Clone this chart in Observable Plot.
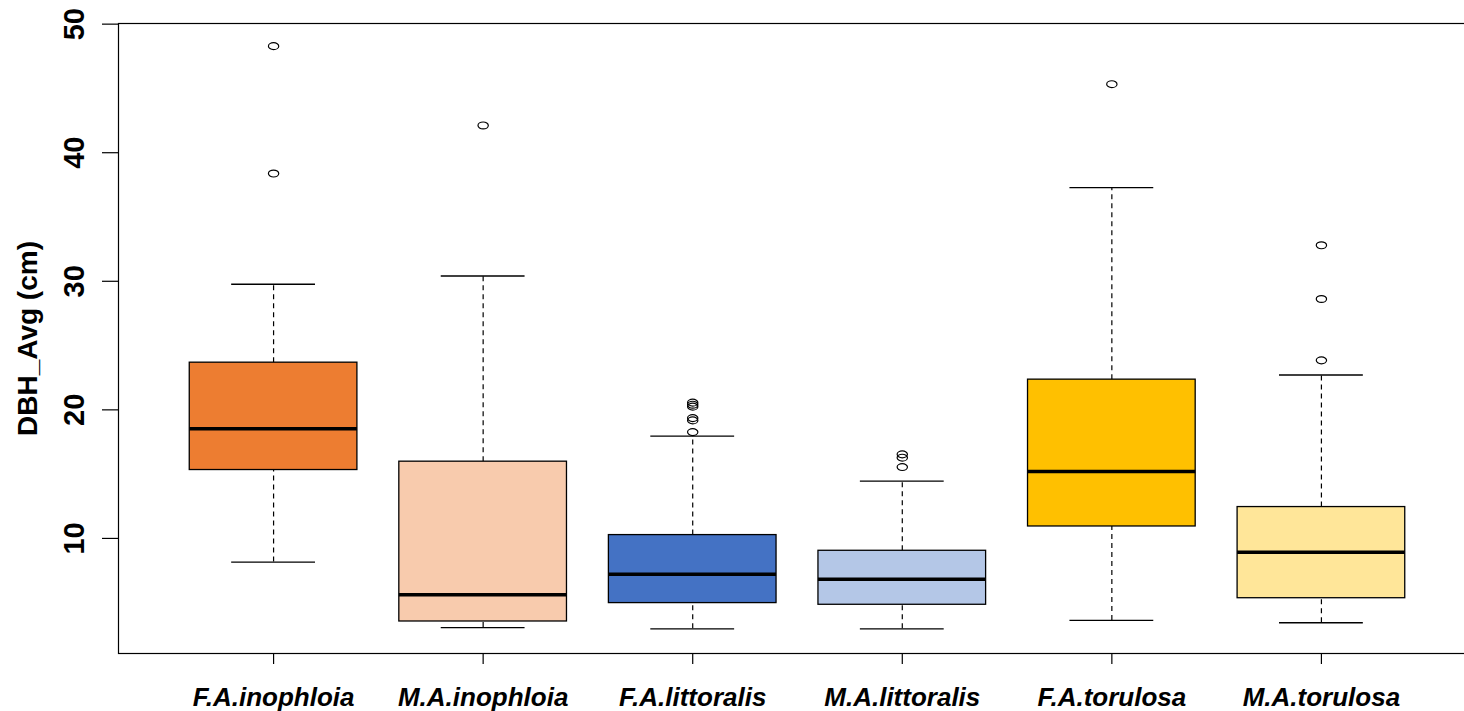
<!DOCTYPE html>
<html>
<head>
<meta charset="utf-8">
<script src="https://cdn.jsdelivr.net/npm/d3@7"></script>
<script src="https://cdn.jsdelivr.net/npm/@observablehq/plot@0.6"></script>
<style>
  html, body { margin: 0; padding: 0; background: #fff; overflow: hidden; }
  #chart svg { display: block; max-width: none !important; font-family: "Liberation Sans", Arial, Helvetica, sans-serif; }
</style>
</head>
<body>
<div id="chart"></div>
<script>
// DBH (cm) by group: five-number summaries and outliers
const groups = ["F.A.inophloia", "M.A.inophloia", "F.A.littoralis", "M.A.littoralis", "F.A.torulosa", "M.A.torulosa"];
const lowerWhisker = [8.16, 3.07, 2.97, 2.97, 3.62, 3.44];
const lowerQuartile = [15.32, 3.54, 4.97, 4.84, 10.93, 5.35];
const medians = [18.54, 5.62, 7.22, 6.83, 15.21, 8.93];
const upperQuartile = [23.67, 15.97, 10.26, 9.04, 22.35, 12.44];
const upperWhisker = [29.77, 30.41, 17.96, 14.46, 37.29, 22.71];
const outliers = [
  [48.29, 38.38],
  [42.12],
  [20.56, 20.40, 20.25, 19.36, 19.18, 18.27],
  [16.54, 16.28, 15.55],
  [45.33],
  [32.80, 28.62, 23.85]
];
const boxColors = ["#ED7D31", "#F8CBAD", "#4472C4", "#B4C7E7", "#FFC000", "#FFE699"];
const yTicks = [10, 20, 30, 40, 50];
const yLabel = "DBH_Avg (cm)";

const stats = groups.map((g, i) => ({
  pos: i + 1,
  group: g,
  lo: lowerWhisker[i],
  q1: lowerQuartile[i],
  med: medians[i],
  q3: upperQuartile[i],
  hi: upperWhisker[i],
  fill: boxColors[i]
}));
const points = outliers.flatMap((vals, i) => vals.map(v => ({pos: i + 1, value: v})));

// open ellipse used for the outlier points
const ellipse = {
  draw(context, size) {
    const r = Math.sqrt(size / Math.PI);
    const rx = r * 1.2, ry = r * 0.8, k = 0.5523;
    context.moveTo(rx, 0);
    context.bezierCurveTo(rx, ry * k, rx * k, ry, 0, ry);
    context.bezierCurveTo(-rx * k, ry, -rx, ry * k, -rx, 0);
    context.bezierCurveTo(-rx, -ry * k, -rx * k, -ry, 0, -ry);
    context.bezierCurveTo(rx * k, -ry, rx, -ry * k, rx, 0);
    context.closePath();
  }
};

const n = groups.length;
const pad = 0.04 * n; // 4% extension around the 0.5 .. n+0.5 slots

const chart = Plot.plot({
  width: 1476,
  height: 711,
  marginTop: 23,
  marginBottom: 58,
  marginLeft: 118,
  marginRight: 0,
  x: {domain: [0.5 - pad, n + 0.5 + pad]},
  y: {domain: [1.05, 50.05]},
  color: {type: "identity"},
  marks: [
    // whiskers
    Plot.ruleX(stats, {x: "pos", y1: "q3", y2: "hi", stroke: "#000", strokeWidth: 1.2, strokeDasharray: "5,4"}),
    Plot.ruleX(stats, {x: "pos", y1: "lo", y2: "q1", stroke: "#000", strokeWidth: 1.2, strokeDasharray: "5,4"}),
    // whisker caps
    Plot.ruleY(stats, {y: "hi", x1: d => d.pos - 0.2, x2: d => d.pos + 0.2, stroke: "#000", strokeWidth: 1.3}),
    Plot.ruleY(stats, {y: "lo", x1: d => d.pos - 0.2, x2: d => d.pos + 0.2, stroke: "#000", strokeWidth: 1.3}),
    // boxes
    Plot.rect(stats, {x1: d => d.pos - 0.4, x2: d => d.pos + 0.4, y1: "q1", y2: "q3", fill: "fill", stroke: "#000", strokeWidth: 1.3}),
    // medians
    Plot.ruleY(stats, {y: "med", x1: d => d.pos - 0.4, x2: d => d.pos + 0.4, stroke: "#000", strokeWidth: 3.5}),
    // outliers
    Plot.dot(points, {x: "pos", y: "value", r: 4.3, symbol: ellipse, fill: "none", stroke: "#000", strokeWidth: 1.2}),
    Plot.frame({stroke: "#000", strokeWidth: 1.2}),
    // y axis: ticks, rotated labels, title
    Plot.axisY(yTicks, {tickSize: 16, tickFormat: () => "", label: null, stroke: "#000", strokeWidth: 1.2}),
    Plot.text(yTicks, {y: d => d, text: d => String(d), frameAnchor: "left", dx: -44, rotate: -90,
      textAnchor: "middle", lineAnchor: "middle", fontSize: 29, fontWeight: "bold", fill: "#000"}),
    Plot.text([yLabel], {frameAnchor: "left", dx: -90, rotate: -90, textAnchor: "middle", lineAnchor: "middle",
      fontSize: 28, fontWeight: "bold", fill: "#000"}),
    // x axis
    Plot.axisX(stats.map(d => d.pos), {tickSize: 11, tickPadding: 23, tickFormat: i => groups[i - 1], label: null,
      fontSize: 26, fontWeight: "bold", fontStyle: "italic", stroke: "#000", strokeWidth: 1.2, fill: "#000"})
  ]
});

document.getElementById("chart").append(chart);
</script>
</body>
</html>
